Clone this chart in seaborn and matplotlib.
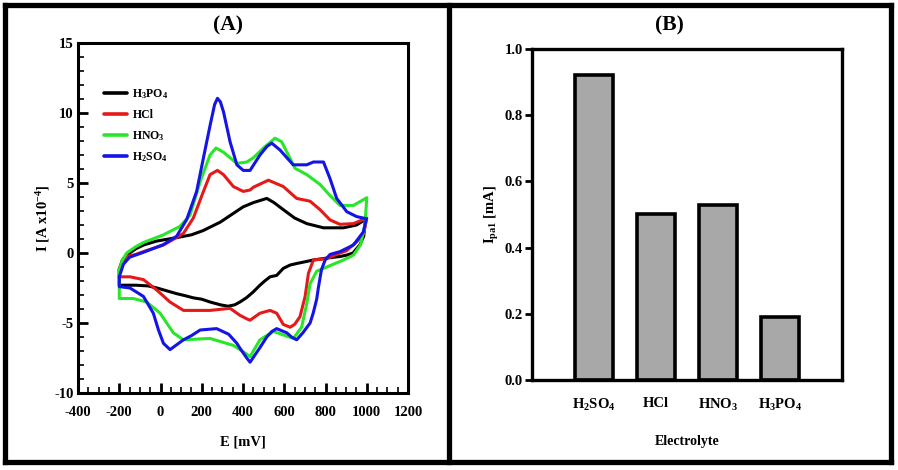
import numpy as np
import pandas as pd
import matplotlib
matplotlib.use('Agg')
import matplotlib.pyplot as plt
from matplotlib.lines import Line2D
from matplotlib.ticker import MultipleLocator
import seaborn as sns

# ---- data: cyclic voltammograms (E in mV, I in A x10^-4), forward then reverse scan ----
e_h3po4 = [-200, -185, -160, -120, -83, -20, 78, 150, 206, 289, 350, 401, 450, 515, 550, 595, 650, 709, 790, 887, 950, 994,
           985, 967, 933, 903, 870, 806, 740, 709, 660, 628, 595, 563, 531, 505, 482, 448, 416, 385, 360, 327, 290, 240, 200,
           158, 120, 77, 30, -17, -60, -120, -200, -200]
i_h3po4 = [-1.2, -0.5, -0.1, 0.3, 0.57, 0.85, 1.1, 1.3, 1.6, 2.2, 2.8, 3.3, 3.6, 3.9, 3.6, 3.1, 2.5, 2.1, 1.8, 1.8, 2.0, 2.4,
           1.2, 0.6, 0.0, -0.15, -0.25, -0.36, -0.5, -0.6, -0.75, -0.86, -1.1, -1.6, -1.7, -2.0, -2.3, -2.8, -3.2, -3.5, -3.7,
           -3.8, -3.7, -3.5, -3.3, -3.2, -3.05, -2.9, -2.7, -2.5, -2.35, -2.3, -2.3, -1.2]

e_hcl = [-200, -185, -164, -120, -83, 14, 111, 159, 208, 240, 276, 305, 353, 401, 434, 450, 523, 595, 660, 725, 773, 822, 870,
         935, 1000,
         985, 951, 900, 870, 806, 741, 717, 701, 676, 650, 628, 595, 563, 531, 482, 434, 418, 385, 337, 240, 111, 46, -18,
         -83, -148, -200, -200]
i_hcl = [-1.1, -0.6, -0.25, -0.1, 0.1, 0.57, 1.4, 2.5, 4.4, 5.6, 5.9, 5.6, 4.75, 4.4, 4.5, 4.7, 5.2, 4.75, 3.9, 3.7, 3.1, 2.36,
         2.05, 2.1, 2.5,
         1.4, 0.8, 0.15, 0.0, -0.4, -0.5, -1.45, -3.1, -4.55, -5.1, -5.3, -5.1, -4.3, -4.1, -4.3, -4.8, -4.7, -4.45, -3.95,
         -4.1, -4.1, -3.5, -2.65, -1.9, -1.7, -1.7, -1.1]

e_hno3 = [-200, -185, -164, -120, -83, 14, 94, 143, 192, 240, 269, 305, 370, 418, 450, 499, 555, 587, 652, 709, 773, 822, 870,
          935, 1000,
          991, 970, 935, 880, 854, 806, 757, 725, 709, 684, 644, 595, 547, 482, 434, 401, 353, 240, 111, 62, -2, -67, -132,
          -200, -200]
i_hno3 = [-1.2, -0.5, 0.0, 0.45, 0.75, 1.3, 1.9, 2.7, 5.1, 7.0, 7.5, 7.2, 6.4, 6.5, 6.8, 7.5, 8.2, 7.95, 6.05, 5.6, 4.9, 4.1,
          3.4, 3.4, 3.95,
          2.0, 0.6, -0.15, -0.55, -0.7, -1.0, -1.3, -2.2, -3.6, -5.3, -6.1, -5.85, -5.6, -6.2, -7.4, -7.05, -6.6, -6.1, -6.2,
          -5.7, -4.3, -3.5, -3.25, -3.25, -1.2]

e_h2so4 = [-200, -180, -150, -83, 14, 78, 127, 175, 208, 240, 262, 276, 290, 305, 337, 370, 401, 434, 482, 515, 539, 579, 643,
           709, 741, 790, 822, 854, 903, 951, 998,
           983, 935, 870, 822, 798, 780, 765, 757, 740, 725, 690, 660, 635, 612, 563, 540, 515, 480, 434, 418, 385, 370,
           330, 272, 192, 150, 111, 46, 14, -10, -35, -83, -148, -200, -200]
i_h2so4 = [-1.7, -0.8, -0.3, 0.05, 0.6, 1.2, 2.4, 4.4, 6.8, 9.1, 10.6, 11.05, 10.8, 10.1, 7.95, 6.3, 5.9, 5.9, 7.0, 7.6, 7.85,
           7.36, 6.3, 6.3, 6.5, 6.5, 5.3, 3.9, 2.95, 2.6, 2.45,
           1.5, 0.57, 0.1, -0.1, -0.5, -1.2, -2.5, -3.3, -4.3, -5.0, -5.7, -6.2, -6.0, -5.7, -5.4, -5.6, -6.0, -6.8, -7.8,
           -7.5, -6.8, -6.45, -5.8, -5.4, -5.5, -5.9, -6.2, -6.9, -6.45, -5.5, -4.3, -3.1, -2.5, -2.4, -1.7]

# ---- data: peak current per electrolyte ----
electrolytes = [r'H$_2$SO$_4$', 'HCl', r'HNO$_3$', r'H$_3$PO$_4$']
ipa1 = [0.92, 0.50, 0.53, 0.19]

legend_labels = [r'H$_3$PO$_4$', 'HCl', r'HNO$_3$', r'H$_2$SO$_4$']
colors = ['#000000', '#e61919', '#28e628', '#1414e6']

sns.set_style('ticks')
plt.rcParams['font.family'] = ['Liberation Serif', 'DejaVu Serif']
plt.rcParams['font.weight'] = 'bold'
plt.rcParams['axes.labelweight'] = 'bold'
plt.rcParams['axes.unicode_minus'] = False
plt.rcParams['axes.edgecolor'] = 'black'
plt.rcParams['xtick.color'] = 'black'
plt.rcParams['ytick.color'] = 'black'
plt.rcParams['text.color'] = 'black'
plt.rcParams['axes.labelcolor'] = 'black'
plt.rcParams['mathtext.fontset'] = 'custom'
plt.rcParams['mathtext.rm'] = 'Liberation Serif:bold'
plt.rcParams['mathtext.it'] = 'Liberation Serif:italic:bold'
plt.rcParams['mathtext.bf'] = 'Liberation Serif:bold'
plt.rcParams['mathtext.default'] = 'rm'

cv = pd.concat([
    pd.DataFrame({'E': e, 'I': i, 'acid': lab})
    for e, i, lab in zip([e_h3po4, e_hcl, e_hno3, e_h2so4], [i_h3po4, i_hcl, i_hno3, i_h2so4], legend_labels)
], ignore_index=True)

fig = plt.figure(figsize=(8.98, 4.70), dpi=100)
ax1 = fig.add_axes([0.0869, 0.1638, 0.3675, 0.7447])
ax2 = fig.add_axes([0.5924, 0.1915, 0.3452, 0.7043])

# --- (A) CV curves ---
sns.lineplot(data=cv, x='E', y='I', hue='acid', hue_order=legend_labels, palette=colors,
             sort=False, estimator=None, linewidth=2.2, ax=ax1)
for ln in ax1.lines:
    ln.set_solid_joinstyle('round')
ax1.set_xlim(-400, 1200)
ax1.set_ylim(-10, 15)
ax1.xaxis.set_major_locator(MultipleLocator(200))
ax1.xaxis.set_minor_locator(MultipleLocator(50))
ax1.yaxis.set_major_locator(MultipleLocator(5))
ax1.yaxis.set_minor_locator(MultipleLocator(1))
ax1.tick_params(which='major', direction='in', length=7, width=2, labelsize=10.5)
ax1.tick_params(axis='x', which='major', pad=9)
ax1.tick_params(axis='y', which='major', pad=3)
ax1.tick_params(which='minor', direction='in', length=4, width=1.2)
for s in ax1.spines.values():
    s.set_linewidth(2.2)
ax1.set_xlabel('E [mV]', fontsize=10.5, labelpad=12)
ax1.set_ylabel(r'I [A x10$^{-4}$]', fontsize=10.5, labelpad=2)
leg = ax1.legend(loc='upper left', bbox_to_anchor=(0.045, 0.905), frameon=False, fontsize=8.5,
                 handlelength=2.0, labelspacing=0.68, handletextpad=0.45)
for h in leg.legend_handles:
    h.set_linewidth(2.6)
fig.text(0.254, 0.945, '(A)', ha='center', va='center', fontsize=15.5, fontweight='bold')

# --- (B) bar chart ---
bar_df = pd.DataFrame({'Electrolyte': electrolytes, 'Ipa1': ipa1})
sns.barplot(data=bar_df, x='Electrolyte', y='Ipa1', color='#a8a8a8', saturation=1, width=0.6,
            edgecolor='black', linewidth=2.6, ax=ax2)
ax2.set_xlim(-1, 4)
ax2.set_ylim(0, 1.0)
ax2.yaxis.set_major_locator(MultipleLocator(0.2))
ax2.yaxis.set_major_formatter(matplotlib.ticker.FormatStrFormatter('%.1f'))
ax2.tick_params(axis='y', direction='out', length=5, width=2, labelsize=10.5, pad=1.5)
ax2.tick_params(axis='x', length=0, labelsize=10.5, pad=12)
for s in ax2.spines.values():
    s.set_linewidth(2.4)
ax2.set_xlabel('Electrolyte', fontsize=10, labelpad=16)
ax2.set_ylabel(r'I$_{pa1}$ [mA]', fontsize=10.5, labelpad=3)
fig.text(0.746, 0.945, '(B)', ha='center', va='center', fontsize=15.5, fontweight='bold')

# --- outer frames ---
for xs, ys in [([0.006, 0.992], [0.989, 0.989]), ([0.006, 0.992], [0.016, 0.016]),
               ([0.006, 0.006], [0.016, 0.989]), ([0.4995, 0.4995], [0.016, 0.989]),
               ([0.992, 0.992], [0.016, 0.989])]:
    fig.add_artist(Line2D(xs, ys, color='black', linewidth=3.8, transform=fig.transFigure,
                          solid_capstyle='projecting'))

fig.savefig('out.png', dpi=100)
